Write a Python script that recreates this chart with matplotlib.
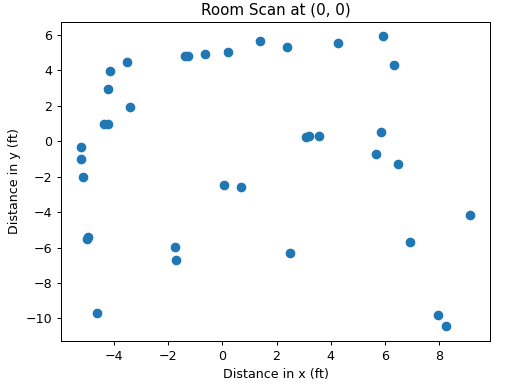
import numpy as np
import matplotlib.pyplot as plt
from matplotlib.ticker import MultipleLocator

# scanned points (ft)
x = [-5.25, -5.25, -5.17, -4.97, -5.0, -4.63, -4.4, -4.25, -4.22, -4.16,
     -3.52, -3.44, -1.77, -1.73, -1.4, -1.28, -0.64, 0.2, 0.06, 0.67,
     1.38, 2.37, 2.5, 3.1, 3.2, 3.58, 4.28, 5.69, 5.85, 5.93,
     6.33, 6.49, 6.95, 7.96, 8.28, 9.17]
y = [-0.32, -1.0, -2.03, -5.42, -5.5, -9.68, 0.98, 0.98, 2.94, 3.95,
     4.5, 1.92, -5.99, -6.7, 4.8, 4.8, 4.93, 5.05, -2.47, -2.56,
     5.67, 5.33, -6.31, 0.22, 0.28, 0.32, 5.57, -0.72, 0.51, 5.92,
     4.29, -1.3, -5.67, -9.81, -10.45, -4.16]

dpi = 91
fig, ax = plt.subplots(figsize=(505 / dpi, 386 / dpi), dpi=dpi)
fig.subplots_adjust(left=0.121, right=0.970, top=0.943, bottom=0.117)

ax.scatter(x, y, s=44)
ax.yaxis.set_major_locator(MultipleLocator(2))
ax.set_title('Room Scan at (0, 0)')
ax.set_xlabel('Distance in x (ft)')
ax.set_ylabel('Distance in y (ft)')

fig.savefig('out.png', dpi=dpi)
